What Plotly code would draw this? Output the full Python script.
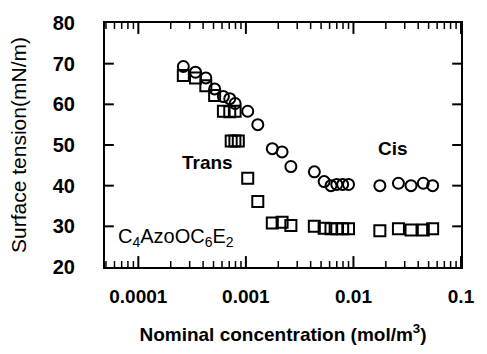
import plotly.graph_objects as go

# Cis (circles)
cis_x = [2.62e-4, 3.4e-4, 4.24e-4, 5.12e-4, 6.18e-4, 7.08e-4, 7.94e-4, 1.04e-3, 1.29e-3,
         1.76e-3, 2.17e-3, 2.62e-3, 4.33e-3, 5.34e-3, 6.18e-3, 7.0e-3, 7.94e-3, 9.0e-3,
         1.76e-2, 2.62e-2, 3.43e-2, 4.46e-2, 5.45e-2]
cis_y = [69.3, 67.9, 66.5, 63.8, 61.9, 61.4, 60.2, 58.3, 55.0,
         49.1, 48.3, 44.7, 43.4, 41.0, 40.0, 40.3, 40.3, 40.3,
         40.0, 40.6, 40.0, 40.6, 40.0]

# Trans (squares)
trans_x = [2.62e-4, 3.4e-4, 4.24e-4, 5.12e-4, 6.18e-4, 7.08e-4, 7.94e-4, 7.3e-4, 7.9e-4, 8.5e-4,
           1.04e-3, 1.29e-3, 1.76e-3, 2.17e-3, 2.62e-3, 4.33e-3, 5.34e-3, 6.18e-3, 7.0e-3,
           7.94e-3, 9.0e-3, 1.76e-2, 2.62e-2, 3.43e-2, 4.46e-2, 5.45e-2]
trans_y = [67.1, 66.5, 64.6, 62.2, 58.3, 58.2, 58.3, 51.0, 51.0, 51.0,
           41.8, 36.1, 30.8, 31.0, 30.2, 30.0, 29.5, 29.4, 29.4,
           29.4, 29.4, 28.9, 29.4, 29.1, 29.1, 29.4]

x_tickvals = [0.0001, 0.001, 0.01, 0.1]
x_ticktext = ["0.0001", "0.001", "0.01", "0.1"]
x_minor_vals = [d * 10.0 ** e for e in range(-5, -1) for d in range(2, 10)]
y_tickvals = [20, 30, 40, 50, 60, 70, 80]

FONT = "Liberation Sans, Arial, sans-serif"
XRANGE = [-4.31, -1.0]
YRANGE = [20, 80]
CLEAR = "rgba(0,0,0,0)"
W, H = 487, 354
ML, MR, MT, MB = 105, 18, 23, 85

# pixel -> axis-unit conversion for the inside tick marks
dec_per_px = (XRANGE[1] - XRANGE[0]) / (W - ML - MR)
y_per_px = (YRANGE[1] - YRANGE[0]) / (H - MT - MB)


def x_tick_path(vals, length_px):
    xs, ys = [], []
    dy = length_px * y_per_px
    for v in vals:
        if 10 ** XRANGE[0] < v < 10 ** XRANGE[1] * 1.0001:
            xs += [v, v, None, v, v, None]
            ys += [YRANGE[0], YRANGE[0] + dy, None, YRANGE[1], YRANGE[1] - dy, None]
    return xs, ys


def y_tick_path(vals, length_px):
    xs, ys = [], []
    dx = length_px * dec_per_px
    for v in vals:
        if YRANGE[0] < v < YRANGE[1]:
            xs += [10 ** XRANGE[0], 10 ** (XRANGE[0] + dx), None,
                   10 ** XRANGE[1], 10 ** (XRANGE[1] - dx), None]
            ys += [v, v, None, v, v, None]
    return xs, ys


fig = go.Figure()

# inside tick marks on all four sides
for (tx, ty), wdt in ((x_tick_path(x_tickvals, 11), 2),
                      (x_tick_path(x_minor_vals, 6), 1.5),
                      (y_tick_path(y_tickvals, 9), 2)):
    fig.add_trace(go.Scatter(x=tx, y=ty, mode="lines", line=dict(color="black", width=wdt),
                             hoverinfo="skip", showlegend=False))

fig.add_trace(go.Scatter(x=cis_x, y=cis_y, mode="markers", name="Cis",
                         marker=dict(symbol="circle-open", size=11, color="black",
                                     line=dict(width=2, color="black"))))
fig.add_trace(go.Scatter(x=trans_x, y=trans_y, mode="markers", name="Trans",
                         marker=dict(symbol="square-open", size=11, color="black",
                                     line=dict(width=2, color="black"))))

fig.add_annotation(x=-3.355, y=45.7, xref="x", yref="y", text="Trans", showarrow=False,
                   font=dict(family=FONT, size=19, color="black", weight="bold"))
fig.add_annotation(x=-1.63, y=49.1, xref="x", yref="y", text="Cis", showarrow=False,
                   font=dict(family=FONT, size=19, color="black", weight="bold"))
fig.add_annotation(x=-4.205, y=27.3, xref="x", yref="y", xanchor="left",
                   text="C<sub>4</sub>AzoOC<sub>6</sub>E<sub>2</sub>", showarrow=False,
                   font=dict(family=FONT, size=20, color="black"))

fig.update_layout(
    width=W, height=H,
    margin=dict(l=ML, r=MR, t=MT, b=MB),
    paper_bgcolor="white", plot_bgcolor="white",
    showlegend=False,
    font=dict(family=FONT, color="black"),
    xaxis=dict(
        type="log", range=XRANGE,
        tickmode="array", tickvals=x_tickvals, ticktext=x_ticktext,
        ticks="outside", ticklen=11, tickcolor=CLEAR,
        showline=True, linewidth=2, linecolor="black", mirror=True,
        showgrid=False, zeroline=False,
        tickfont=dict(family=FONT, size=19, color="black", weight="bold"),
        title=dict(text="Nominal concentration (mol/m<sup>3</sup>)", standoff=22,
                   font=dict(family=FONT, size=19, color="black", weight="bold")),
    ),
    yaxis=dict(
        range=YRANGE, tickmode="array", tickvals=y_tickvals,
        ticks="outside", ticklen=24, tickcolor=CLEAR,
        showline=True, linewidth=2, linecolor="black", mirror=True,
        showgrid=False, zeroline=False,
        tickfont=dict(family=FONT, size=20, color="black", weight="bold"),
        title=dict(text="Surface tension(mN/m)", standoff=20,
                   font=dict(family=FONT, size=21, color="black")),
    ),
)

fig.write_html("out.html")
